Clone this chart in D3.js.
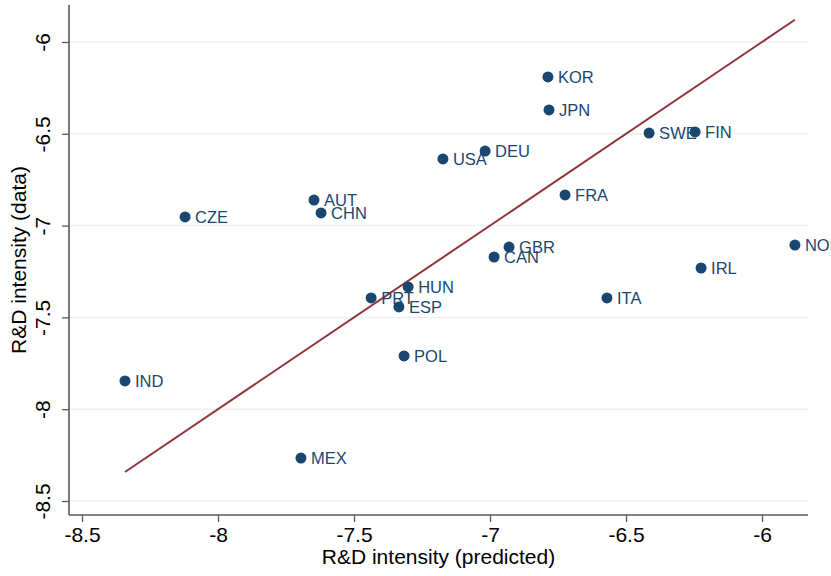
<!DOCTYPE html>
<html>
<head>
<meta charset="utf-8">
<script src="https://cdnjs.cloudflare.com/ajax/libs/d3/7.8.5/d3.min.js"></script>
<style>
  body { margin: 0; background: #fff; }
  svg { display: block; font-family: "Liberation Sans", Arial, sans-serif; }
</style>
</head>
<body>
<svg id="chart" width="831" height="576"></svg>
<script>
(function() {
  var countries = ['KOR', 'JPN', 'SWE', 'FIN', 'DEU', 'USA', 'FRA', 'AUT', 'CHN', 'CZE', 'GBR',
                   'CAN', 'NOR', 'IRL', 'HUN', 'PRT', 'ESP', 'ITA', 'POL', 'IND', 'MEX'];
  var predicted = [-6.787, -6.783, -6.415, -6.246, -7.018, -7.173, -6.724, -7.647, -7.621, -8.121, -6.930,
                   -6.985, -5.879, -6.224, -7.301, -7.437, -7.335, -6.570, -7.316, -8.342, -7.695];
  var actual = [-6.19, -6.37, -6.496, -6.49, -6.594, -6.637, -6.833, -6.861, -6.931, -6.953, -7.117,
                -7.171, -7.106, -7.231, -7.334, -7.394, -7.443, -7.394, -7.71, -7.846, -8.266];
  var xTicks = [-8.5, -8, -7.5, -7, -6.5, -6];
  var yTicks = [-6, -6.5, -7, -7.5, -8, -8.5];

  var navy = '#1a476f', maroon = '#90353b', grid = '#eaf2f3', axisCol = '#595959';
  var svg = d3.select('#chart');
  var left = 69, right = 808, top = 5, bottom = 515;

  var x = d3.scaleLinear().domain([-8.5478, -5.8309]).range([left, right]);
  var y = d3.scaleLinear().domain([-8.5763, -5.7985]).range([bottom, top]);

  // plain hyphen like the original, not the unicode minus
  var fmt = function(d) { return String(d); };

  // horizontal grid
  svg.append('g').selectAll('line').data(yTicks).enter().append('line')
    .attr('x1', left).attr('x2', right)
    .attr('y1', function(d) { return y(d); }).attr('y2', function(d) { return y(d); })
    .attr('stroke', grid).attr('stroke-width', 1.5);

  // 45 degree line over the range of predicted values
  var ext = d3.extent(predicted);
  svg.append('line')
    .attr('x1', x(ext[0])).attr('y1', y(ext[0]))
    .attr('x2', x(ext[1])).attr('y2', y(ext[1]))
    .attr('stroke', maroon).attr('stroke-width', 2);

  var xAxis = svg.append('g').attr('transform', 'translate(0,' + bottom + ')')
    .call(d3.axisBottom(x).tickValues(xTicks).tickSize(7).tickPadding(5).tickFormat(fmt));
  var yAxis = svg.append('g').attr('transform', 'translate(' + left + ',0)')
    .call(d3.axisLeft(y).tickValues(yTicks).tickSize(7).tickPadding(0).tickFormat(fmt));

  [xAxis, yAxis].forEach(function(a) {
    a.select('.domain').attr('stroke', axisCol).attr('stroke-width', 1.6);
    a.selectAll('.tick line').attr('stroke', axisCol).attr('stroke-width', 1.3);
    a.selectAll('text').attr('fill', '#000').style('font-size', '21px')
      .style('font-family', '"Liberation Sans", Arial, sans-serif');
  });
  xAxis.select('.domain').attr('d', 'M' + left + ',0H' + right);
  yAxis.select('.domain').attr('d', 'M0,' + top + 'V' + bottom);

  yAxis.selectAll('.tick text')
    .attr('x', null).attr('dy', null)
    .attr('text-anchor', 'middle')
    .attr('transform', 'translate(-19,0) rotate(-90)');

  // points and labels
  var pts = svg.append('g').selectAll('g').data(countries).enter().append('g')
    .attr('transform', function(d, i) { return 'translate(' + x(predicted[i]) + ',' + y(actual[i]) + ')'; });
  pts.append('circle').attr('r', 5.5).attr('fill', navy);
  pts.append('text').attr('x', 10).attr('dy', '0.36em')
    .attr('fill', navy).style('font-size', '16.5px')
    .text(function(d) { return d; });

  // axis titles
  svg.append('text').attr('x', (left + right) / 2).attr('y', 564)
    .attr('text-anchor', 'middle').style('font-size', '21px')
    .text('R&D intensity (predicted)');
  svg.append('text').attr('transform', 'translate(26,260) rotate(-90)')
    .attr('text-anchor', 'middle').style('font-size', '21px')
    .text('R&D intensity (data)');
}).call(this);
</script>
</body>
</html>
